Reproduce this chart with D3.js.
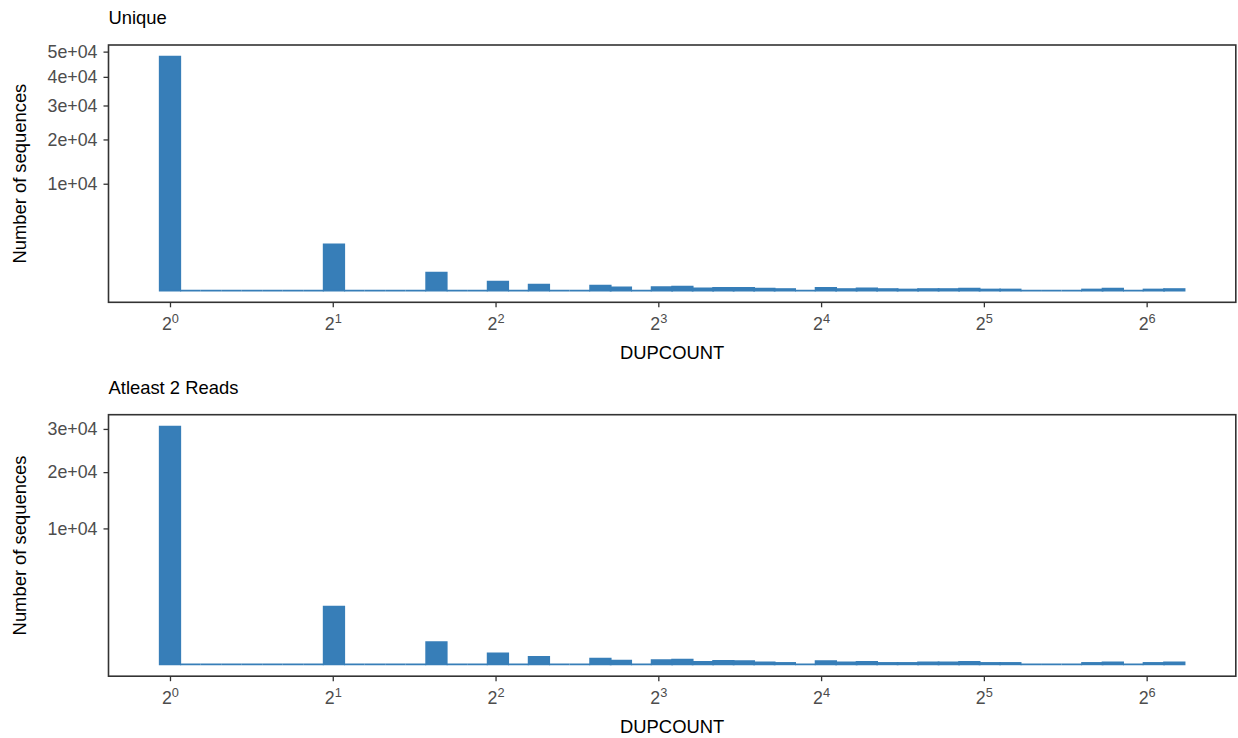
<!DOCTYPE html>
<html>
<head>
<meta charset="utf-8">
<script src="https://cdn.jsdelivr.net/npm/d3@7"></script>
<style>
  body { margin: 0; background: #ffffff; }
  text { font-family: "Liberation Sans", Arial, Helvetica, sans-serif; }
</style>
</head>
<body>
<svg id="chart" width="1238" height="738"></svg>
<script>
// Histogram of DUPCOUNT on a log2 axis, 50 bins, square-root count axis.
const maxDupcount = 72;
const binCount = 50;

// Sequences per bin (bin 0 holds DUPCOUNT = 1, bin 49 holds the largest values)
const uniqueCounts = [
  47900, 0, 0, 0, 0, 0, 0, 0, 1860, 0,
  0, 0, 0, 280, 0, 0, 69, 0, 30, 0,
  0, 21, 9, 0, 11, 13, 4, 7, 7, 3,
  2, 0, 7, 2, 4, 2, 1, 2, 2, 3,
  1, 1, 0, 0, 0, 1, 3, 0, 1, 2
];
const atleast2Counts = [
  30600, 0, 0, 0, 0, 0, 0, 0, 1800, 0,
  0, 0, 0, 267, 0, 0, 65, 0, 29, 0,
  0, 17, 7, 0, 9, 12, 3, 6, 5, 2,
  1, 0, 5, 2, 3, 1, 1, 2, 2, 3,
  1, 1, 0, 0, 0, 1, 2, 0, 1, 2
];

const xTickExponents = [0, 1, 2, 3, 4, 5, 6];
const uniqueYTicks = [10000, 20000, 30000, 40000, 50000];
const atleast2YTicks = [10000, 20000, 30000];
const panelTitles = ["Unique", "Atleast 2 Reads"];
const xAxisTitle = "DUPCOUNT";
const yAxisTitle = "Number of sequences";

const barColor = "#377EB8";
const inkColor = "#333333";
const tickTextColor = "#4D4D4D";
const titleSize = 18.4;
const tickSize = 17.8;

const svg = d3.select("#chart");
svg.append("rect").attr("width", 1238).attr("height", 738).attr("fill", "#ffffff");

// Bin edges in log2 space, centred on 0 .. log2(max)
const binWidth = Math.log2(maxDupcount) / (binCount - 1);
const binsFrom = counts => counts.map((c, i) => ({
  x0: 2 ** ((i - 0.5) * binWidth),
  x1: 2 ** ((i + 0.5) * binWidth),
  count: c
}));

const lo = -0.5 * binWidth, hi = (binCount - 0.5) * binWidth, span = hi - lo;
const plotLeft = 108.5, plotRight = 1235.8;
const x = d3.scaleLog().base(2)
  .domain([2 ** (lo - 0.05 * span), 2 ** (hi + 0.05 * span)])
  .range([plotLeft, plotRight]);

// e.g. 50000 -> "5e+04"
function sciLabel(v) {
  const [m, e] = v.toExponential(0).split("e");
  const sign = e[0] === "-" ? "-" : "+";
  const digits = e.replace(/[+-]/, "").padStart(2, "0");
  return `${m}e${sign}${digits}`;
}

const panels = [
  { title: panelTitles[0], counts: uniqueCounts, yTicks: uniqueYTicks, top: 45, bottom: 302.3 },
  { title: panelTitles[1], counts: atleast2Counts, yTicks: atleast2YTicks, top: 414.7, bottom: 676.2 }
];

panels.forEach(p => {
  const bins = binsFrom(p.counts);
  const maxCount = d3.max(bins, d => d.count);
  const h = p.bottom - p.top;
  const pad = h * 0.05 / 1.1;
  const y = d3.scaleSqrt().domain([0, maxCount]).range([p.bottom - pad, p.top + pad]);

  const g = svg.append("g");

  // Bars as closed paths so that empty bins still leave their outline on the baseline
  g.append("g").selectAll("path")
    .data(bins)
    .join("path")
    .attr("d", d => {
      const xa = x(d.x0), xb = x(d.x1), y0 = y(0), y1 = y(d.count);
      return `M${xa},${y0}V${y1}H${xb}V${y0}Z`;
    })
    .attr("fill", barColor)
    .attr("stroke", barColor)
    .attr("stroke-width", 1.8)
    .attr("stroke-linejoin", "miter");

  // Panel frame
  g.append("rect")
    .attr("x", plotLeft).attr("y", p.top)
    .attr("width", plotRight - plotLeft).attr("height", h)
    .attr("fill", "none")
    .attr("stroke", inkColor)
    .attr("stroke-width", 1.6);

  // Y axis
  const yAxis = g.append("g")
    .attr("transform", `translate(${plotLeft},0)`)
    .call(d3.axisLeft(y).tickValues(p.yTicks).tickSize(5).tickPadding(6).tickFormat(sciLabel));
  yAxis.select(".domain").remove();
  yAxis.selectAll(".tick line").attr("stroke", inkColor).attr("stroke-width", 1.3);
  yAxis.selectAll(".tick text")
    .attr("fill", tickTextColor)
    .attr("font-size", tickSize)
    .attr("font-family", "Liberation Sans, Arial, sans-serif");

  // X axis with 2^k labels
  const xAxis = g.append("g")
    .attr("transform", `translate(0,${p.bottom})`)
    .call(d3.axisBottom(x).tickValues(xTickExponents.map(e => 2 ** e)).tickSize(5).tickFormat(""));
  xAxis.select(".domain").remove();
  xAxis.selectAll(".tick line").attr("stroke", inkColor).attr("stroke-width", 1.3);
  xAxis.selectAll(".tick").each(function(v) {
    const t = d3.select(this).append("text")
      .attr("y", 28)
      .attr("text-anchor", "middle")
      .attr("fill", tickTextColor)
      .attr("font-size", tickSize)
      .attr("font-family", "Liberation Sans, Arial, sans-serif");
    t.append("tspan").text("2");
    t.append("tspan")
      .attr("font-size", tickSize * 0.72)
      .attr("dy", -7)
      .text(String(Math.round(Math.log2(v))));
  });

  // Titles
  g.append("text")
    .attr("x", plotLeft).attr("y", p.top - 20.7)
    .attr("font-size", titleSize).attr("fill", "#000")
    .text(p.title);

  g.append("text")
    .attr("x", (plotLeft + plotRight) / 2).attr("y", p.bottom + 57)
    .attr("text-anchor", "middle")
    .attr("font-size", titleSize).attr("fill", "#000")
    .text(xAxisTitle);

  g.append("text")
    .attr("transform", `translate(26,${(p.top + p.bottom) / 2}) rotate(-90)`)
    .attr("text-anchor", "middle")
    .attr("font-size", titleSize).attr("fill", "#000")
    .text(yAxisTitle);
});
</script>
</body>
</html>
